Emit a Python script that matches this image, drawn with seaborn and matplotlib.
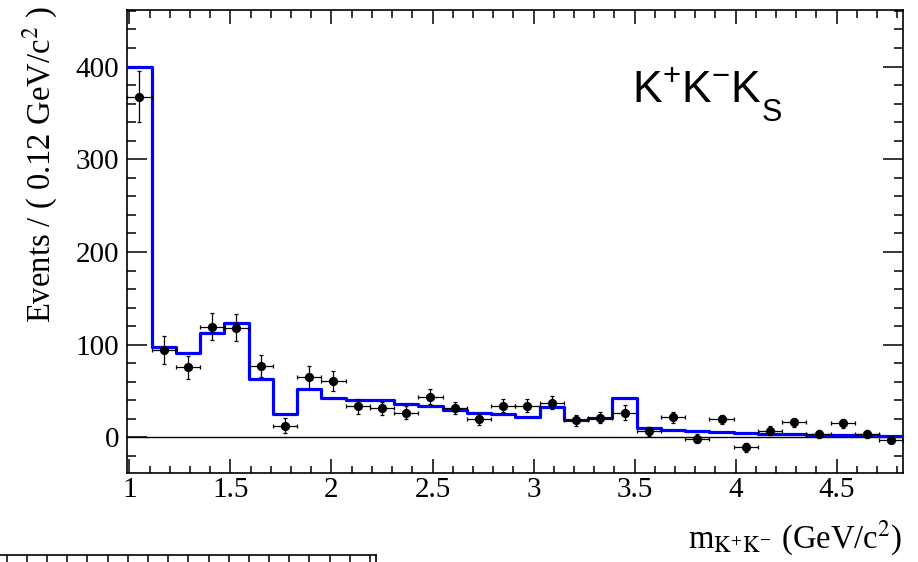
import matplotlib
matplotlib.use("Agg")
import matplotlib.pyplot as plt
from matplotlib.ticker import MultipleLocator, FuncFormatter
import pandas as pd
import seaborn as sns

# K+K- invariant mass spectrum, bins of 0.12 GeV/c^2
mass = [1.05, 1.17, 1.29, 1.41, 1.53, 1.65, 1.77, 1.89, 2.01, 2.13, 2.25,
        2.37, 2.49, 2.61, 2.73, 2.85, 2.97, 3.09, 3.21, 3.33, 3.45, 3.57,
        3.69, 3.81, 3.93, 4.05, 4.17, 4.29, 4.41, 4.53, 4.65, 4.77]
bin_edges = [0.99, 1.11, 1.23, 1.35, 1.47, 1.59, 1.71, 1.83, 1.95, 2.07,
             2.19, 2.31, 2.43, 2.55, 2.67, 2.79, 2.91, 3.03, 3.15, 3.27,
             3.39, 3.51, 3.63, 3.75, 3.87, 3.99, 4.11, 4.23, 4.35, 4.47,
             4.59, 4.71, 4.83]
events = [367.6, 94.2, 75.5, 119.4, 118.3, 77.3, 12.9, 64.7, 61.1, 33.8,
          31.3, 26.6, 43.8, 32.0, 19.4, 34.1, 34.1, 37.2, 18.7, 21.4, 26.9,
          6.8, 21.6, -1.5, 19.4, -10.8, 7.2, 16.2, 3.6, 15.1, 3.6, -2.2]
events_err = [27.7, 15.0, 12.6, 14.8, 14.8, 12.0, 8.0, 12.0, 11.0, 8.0,
              7.0, 7.0, 8.0, 6.5, 6.0, 7.0, 7.0, 7.0, 6.0, 6.0, 8.0, 5.0,
              6.0, 5.0, 5.0, 5.0, 5.0, 5.0, 4.0, 5.0, 4.0, 4.0]
fit = [400.0, 97.8, 90.6, 112.2, 123.7, 63.3, 24.8, 51.8, 42.1, 40.3, 40.3,
       35.9, 33.8, 29.5, 26.6, 24.8, 22.3, 33.1, 18.7, 20.5, 42.1, 10.0, 8.0,
       6.5, 6.0, 4.5, 4.0, 3.5, 3.0, 2.5, 2.2, 1.8]
half_width = 0.06

data = pd.DataFrame({"mass": mass, "events": events, "err": events_err})
fit_df = pd.DataFrame({"edge": bin_edges, "fit": fit + [fit[-1]]})

plt.rcParams["font.family"] = ["Liberation Serif", "DejaVu Serif"]
plt.rcParams["mathtext.fontset"] = "custom"
plt.rcParams["mathtext.rm"] = "Liberation Sans"
plt.rcParams["mathtext.it"] = "Liberation Sans:italic"
plt.rcParams["mathtext.bf"] = "Liberation Sans:bold"

fig = plt.figure(figsize=(9.18, 5.62), dpi=100)
ax = fig.add_axes([0.1387, 0.1589, 0.8454, 0.8233])

# zero reference line
ax.axhline(0, color="black", lw=1.0, zorder=1)

# fitted yield as a histogram outline
sns.lineplot(data=fit_df, x="edge", y="fit", drawstyle="steps-post",
             estimator=None, sort=False, color="#0000ff", linewidth=2.3,
             ax=ax, zorder=3)

# measured yields with error bars
ax.errorbar(data["mass"], data["events"], yerr=data["err"], xerr=half_width,
            fmt="none", ecolor="black", elinewidth=0.9, capsize=1.6,
            capthick=0.9, zorder=4)
sns.scatterplot(data=data, x="mass", y="events", color="black", s=44,
                edgecolor="black", linewidth=0, ax=ax, zorder=5)

ax.set_xlim(0.99, 4.83)
ax.set_ylim(-38, 461)

ax.xaxis.set_major_locator(MultipleLocator(0.5))
ax.xaxis.set_minor_locator(MultipleLocator(0.1))
ax.yaxis.set_major_locator(MultipleLocator(100))
ax.yaxis.set_minor_locator(MultipleLocator(20))
ax.xaxis.set_major_formatter(FuncFormatter(lambda v, p: f"{v:g}"))
ax.yaxis.set_major_formatter(FuncFormatter(lambda v, p: f"{v:g}"))

ax.tick_params(axis="both", which="both", direction="in", top=True,
               right=True, width=1.1, colors="black", labelsize=21)
ax.tick_params(axis="x", which="major", length=10, pad=3)
ax.tick_params(axis="x", which="minor", length=5.4)
ax.tick_params(axis="y", which="major", length=14.4, pad=6)
ax.tick_params(axis="y", which="minor", length=6.8)
for side in ax.spines.values():
    side.set_linewidth(1.2)
    side.set_color("black")

ax.set_xlabel(r"m$_{\mathrm{K^{+}K^{-}}}$ (GeV/c$^{2}$)", fontsize=23.5,
              math_fontfamily="stix")
ax.xaxis.set_label_coords(0.9826, 0.0249, transform=fig.transFigure)
ax.xaxis.label.set(ha="right", va="baseline")

ax.set_ylabel(r"Events / ( 0.12 GeV/c$^{2}$ )", fontsize=23.5,
              math_fontfamily="stix")
ax.yaxis.set_label_coords(0.0445, 0.988, transform=fig.transFigure)
ax.yaxis.label.set(ha="right", va="center")

# channel tag, subscript set low as in the ROOT style
tag = fig.text(0.688, 0.8185, r"K$^{+}$K$^{-}$K", family="Liberation Sans",
               fontsize=32, math_fontfamily="custom", ha="left",
               va="baseline")
ax.annotate("S", xy=(1, 0), xycoords=tag, xytext=(0, -7.5),
            textcoords="offset points", family="Liberation Sans",
            fontsize=22, ha="left", va="baseline", annotation_clip=False)

# top edge of the next panel below
ax2 = fig.add_axes([-30 / 918, -0.3, 406 / 918, 0.3 + 7 / 562])
ax2.set_xlim(-1.82, 18.3)
ax2.set_ylim(0, 1)
ax2.xaxis.set_major_locator(MultipleLocator(1))
ax2.tick_params(axis="x", which="both", direction="in", top=True,
                bottom=False, labelbottom=False, length=10, width=1.1)
ax2.tick_params(axis="y", left=False, labelleft=False)
for side in ax2.spines.values():
    side.set_linewidth(1.2)

fig.savefig("out.png", dpi=100)
